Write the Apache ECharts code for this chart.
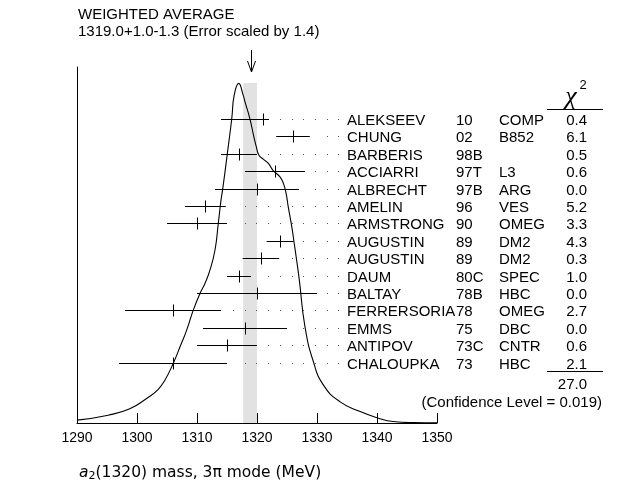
<!DOCTYPE html>
<html><head><meta charset="utf-8">
<script src="https://cdn.jsdelivr.net/npm/echarts@6/dist/echarts.min.js"></script>
<style>html,body{margin:0;padding:0;background:#fff}#c{width:642px;height:487px}</style>
</head><body><div id="c"></div>
<script>
// ---- data ----
const names   = ['ALEKSEEV','CHUNG','BARBERIS','ACCIARRI','ALBRECHT','AMELIN','ARMSTRONG','AUGUSTIN','AUGUSTIN','DAUM','BALTAY','FERRERSORIA','EMMS','ANTIPOV','CHALOUPKA'];
const years   = ['10','02','98B','97T','97B','96','90','89','89','80C','78B','78','75','73C','73'];
const exps    = ['COMP','B852','','L3','ARG','VES','OMEG','DM2','DM2','SPEC','HBC','OMEG','DBC','CNTR','HBC'];
const centers = [1321, 1326, 1317, 1323, 1320, 1311.3, 1310, 1323.8, 1320.6, 1317, 1320, 1306, 1318, 1315, 1306];
const lows    = [1314, 1323.2, 1314, 1318, 1313, 1308, 1305, 1321.6, 1317.6, 1315, 1310, 1298, 1311, 1310, 1297];
const highs   = [1322, 1328.8, 1320, 1328, 1327, 1314.8, 1315, 1326.1, 1323.7, 1319, 1330, 1314, 1325, 1320, 1315];
const chi2    = ['0.4','6.1','0.5','0.6','0.0','5.2','3.3','4.3','0.3','1.0','0.0','2.7','0.0','0.6','2.1'];
const chi2Sum = '27.0';
const confLevel = '0.019';
const waValue = 1319.0, waPlus = 1.0, waMinus = 1.3, errScale = 1.4;
const xTickLabels = [1290, 1300, 1310, 1320, 1330, 1340, 1350];
// ideogram curve (relative height)
const curveX = [1290, 1295.2, 1298.8, 1301.6, 1303.5, 1304.67, 1306.05, 1307.17, 1308.28, 1309.38, 1310.5, 1311.33, 1312.17, 1313.0, 1313.55, 1314.0, 1314.3, 1315.05, 1315.8, 1316.2, 1316.95, 1317.7, 1318.0, 1318.8, 1319.4, 1319.9, 1320.3, 1321.05, 1321.9, 1322.7, 1323.8, 1324.4, 1324.85, 1325.2, 1325.8, 1326.2, 1326.6, 1327.05, 1328.0, 1329.4, 1331.05, 1333.8, 1337.2, 1340, 1342.7, 1346, 1350];
const curveY = [0.8, 2.2, 4.0, 6.9, 9.4, 12.1, 16.8, 21.4, 26.1, 31.7, 36.4, 39.2, 43.0, 48.6, 56.1, 62.6, 65.9, 75.6, 85.6, 92.1, 95.4, 92.1, 90.2, 85.6, 81.0, 77.5, 75.3, 74.1, 72.9, 70.9, 69.2, 67.3, 64.5, 60.8, 55.1, 50.5, 45.8, 40.2, 27.0, 17.2, 10.7, 6.0, 3.2, 1.5, 0.4, 0.1, 0.05];

// ---- layout constants ----
const GRID = {left: 77, right: 205, top: 67, bottom: 64};
const BAND_TOP = 95.5;
const DOT_END = 1333.55, DOT_STEP = 1.95, DOT_GAP = 1.35;
const COL_NAME = 347, COL_YEAR = 456, COL_EXP = 499, COL_CHI = 587;
const TXT = '15px "Liberation Sans", Arial, sans-serif';

const chart = echarts.init(document.getElementById('c'), null, {renderer: 'canvas'});

const rowData = names.map((n, i) => [lows[i], centers[i], highs[i], i]);

function renderRow(params, api) {
  const i = params.dataIndex;
  const row = api.value(3);
  const lo = api.coord([api.value(0), row]);
  const c = api.coord([api.value(1), row]);
  const hi = api.coord([api.value(2), row]);
  const y = Math.round(lo[1]) + 0.5;
  const ch = [];
  ch.push({type: 'line', shape: {x1: lo[0], y1: y, x2: hi[0], y2: y}, style: {stroke: '#000', lineWidth: 1}});
  ch.push({type: 'line', shape: {x1: Math.round(c[0]) + 0.5, y1: y - 6, x2: Math.round(c[0]) + 0.5, y2: y + 6}, style: {stroke: '#000', lineWidth: 1}});
  for (let k = 0; k < 40; k++) {
    const v = DOT_END - k * DOT_STEP;
    if (v <= api.value(2) + DOT_GAP) break;
    const p = api.coord([v, row]);
    ch.push({type: 'rect', shape: {x: Math.round(p[0]), y: Math.round(y - 0.5), width: 1, height: 1}, style: {fill: '#555'}});
  }
  const ty = y + 1;
  const mk = (t, x, align) => ({type: 'text', style: {text: t, x: x, y: ty, textAlign: align, textVerticalAlign: 'middle', verticalAlign: 'middle', font: TXT, fill: '#000'}});
  ch.push(mk(names[i], COL_NAME, 'left'));
  ch.push(mk(years[i], COL_YEAR, 'left'));
  ch.push(mk(exps[i], COL_EXP, 'left'));
  ch.push(mk(chi2[i], COL_CHI, 'right'));
  return {type: 'group', children: ch};
}

function renderBand(params, api) {
  const a = api.coord([waValue - waMinus, BAND_TOP]);
  const b = api.coord([waValue + waPlus, 0]);
  const ax = Math.round(api.coord([waValue, 0])[0]) + 0.5;
  const top = GRID.top - 17, tip = GRID.top + 5;
  return {type: 'group', children: [
    {type: 'rect', shape: {x: a[0], y: a[1], width: b[0] - a[0], height: b[1] - a[1]}, style: {fill: '#e2e2e2'}},
    {type: 'line', shape: {x1: ax, y1: top, x2: ax, y2: tip}, style: {stroke: '#000', lineWidth: 1}},
    {type: 'polyline', shape: {points: [[ax - 4, tip - 11], [ax, tip], [ax + 4, tip - 11]]}, style: {stroke: '#000', fill: null, lineWidth: 1}}
  ]};
}

const option = {
  animation: false,
  backgroundColor: '#fff',
  grid: GRID,
  xAxis: {
    type: 'value', min: 1290, max: 1350, interval: 10,
    axisLine: {show: true, lineStyle: {color: '#000', width: 1}},
    axisTick: {show: true, inside: true, length: 10, lineStyle: {color: '#000'}},
    axisLabel: {color: '#000', fontSize: 14, fontFamily: '"Liberation Sans", Arial, sans-serif', margin: 8,
      formatter: v => (xTickLabels.indexOf(v) >= 0 ? String(v) : '')},
    splitLine: {show: false}
  },
  yAxis: [
    {type: 'value', min: 0, max: 100, axisLine: {show: true, lineStyle: {color: '#000'}}, axisTick: {show: false}, axisLabel: {show: false}, splitLine: {show: false}},
    {type: 'value', min: -2.99, max: 17.47, inverse: true, show: false, splitLine: {show: false}}
  ],
  series: [
    {type: 'custom', xAxisIndex: 0, yAxisIndex: 0, z: 1, renderItem: renderBand, data: [[waValue, 0]], clip: false, silent: true},
    {type: 'line', xAxisIndex: 0, yAxisIndex: 0, z: 2, smooth: 0.5, showSymbol: false, symbol: 'none',
      lineStyle: {color: '#000', width: 1.1}, data: curveX.map((x, i) => [x, curveY[i]])},
    {type: 'custom', xAxisIndex: 0, yAxisIndex: 1, z: 3, renderItem: renderRow, data: rowData, clip: false, silent: true,
      encode: {x: [0, 1, 2], y: 3}}
  ],
  graphic: [
    {type: 'text', left: 78, top: 7, style: {text: 'WEIGHTED AVERAGE', font: '15px "Liberation Sans", Arial, sans-serif', fill: '#000'}},
    {type: 'text', left: 78, top: 24, style: {text: waValue.toFixed(1) + '+' + waPlus.toFixed(1) + '-' + waMinus.toFixed(1) + ' (Error scaled by ' + errScale + ')', font: '15px "Liberation Sans", Arial, sans-serif', fill: '#000'}},
    {type: 'text', x: 571, y: 97, style: {text: 'χ', font: 'italic 26px "Liberation Serif", serif', fill: '#000', textAlign: 'center', textVerticalAlign: 'middle', verticalAlign: 'middle'}},
    {type: 'text', x: 583, y: 85, style: {text: '2', font: '13px "Liberation Sans", Arial, sans-serif', fill: '#000', textAlign: 'center', textVerticalAlign: 'middle', verticalAlign: 'middle'}},
    {type: 'line', shape: {x1: 547, y1: 109.5, x2: 603, y2: 109.5}, style: {stroke: '#000', lineWidth: 1}},
    {type: 'line', shape: {x1: 547, y1: 371.5, x2: 603, y2: 371.5}, style: {stroke: '#000', lineWidth: 1}},
    {type: 'text', x: COL_CHI, y: 385, style: {text: chi2Sum, font: TXT, fill: '#000', textAlign: 'right', textVerticalAlign: 'middle', verticalAlign: 'middle'}},
    {type: 'text', x: 602, y: 402.5, style: {text: '(Confidence Level = ' + confLevel + ')', font: TXT, fill: '#000', textAlign: 'right', textVerticalAlign: 'middle', verticalAlign: 'middle'}},
    {type: 'text', left: 79, top: 465, style: {
      text: '{i|a}{s|2}(1320) mass, 3π mode (MeV)',
      font: '15.5px "DejaVu Sans", sans-serif', fill: '#000',
      rich: {
        i: {fontStyle: 'italic', fontSize: 15.5, fontFamily: '"DejaVu Sans", sans-serif'},
        s: {fontSize: 11, fontFamily: '"DejaVu Sans", sans-serif', verticalAlign: 'bottom', padding: [7, 0, 0, 0]}
      }
    }}
  ]
};
chart.setOption(option);
</script>
</body></html>
